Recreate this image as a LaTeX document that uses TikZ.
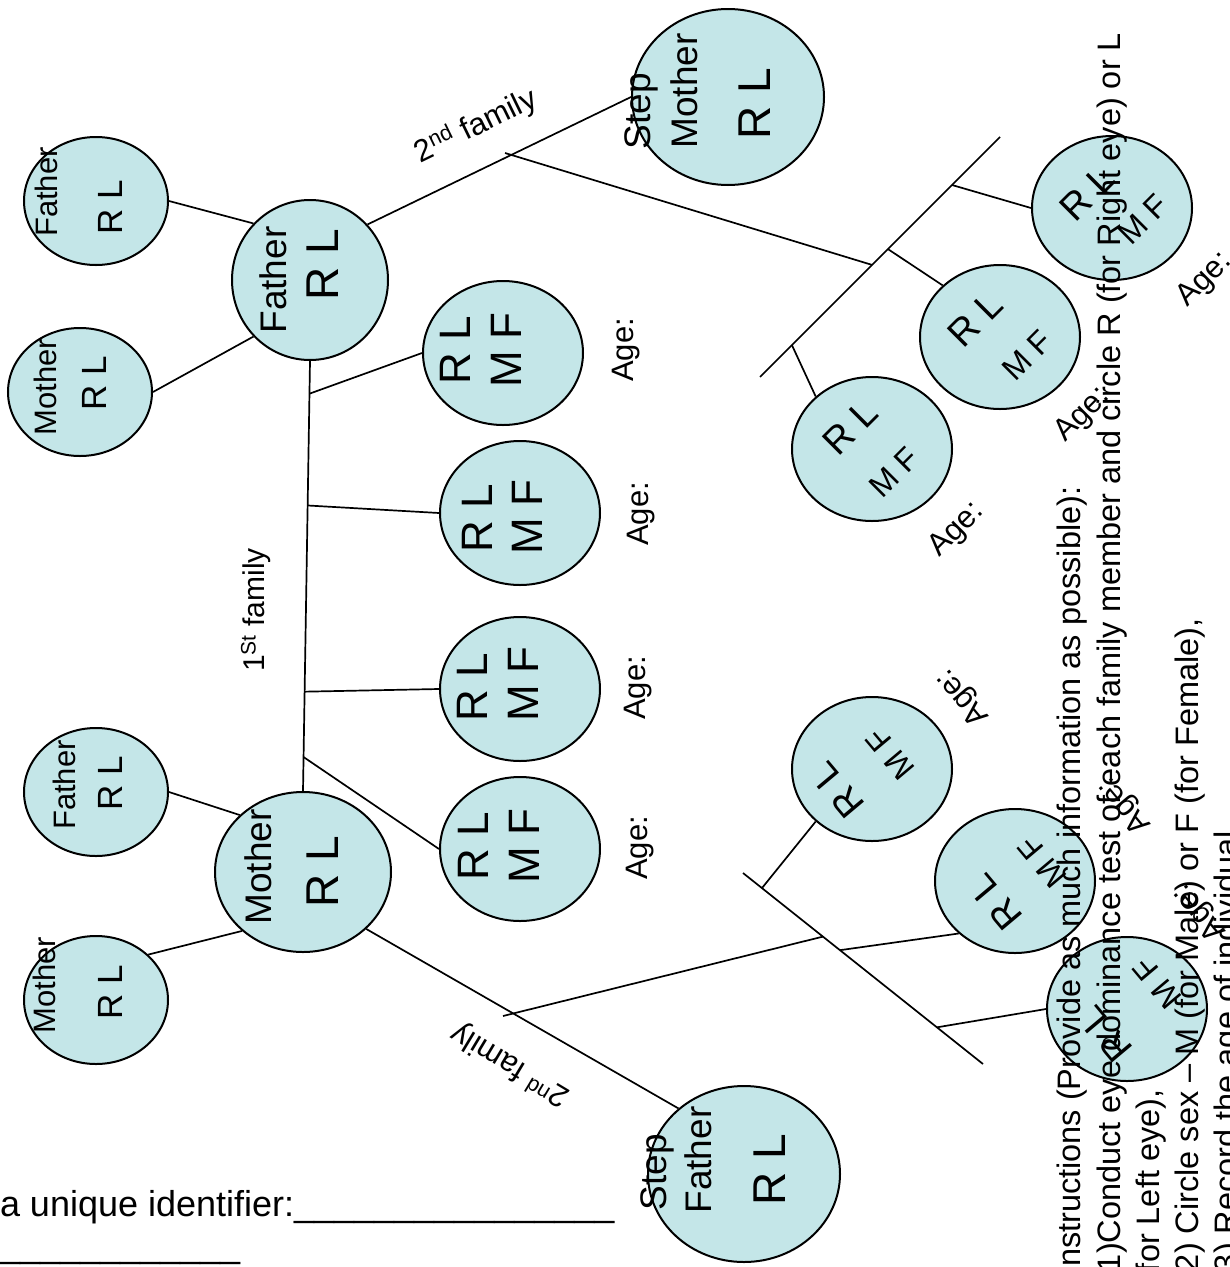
\documentclass[tikz,border=0pt]{standalone}
\usepackage{fontspec}
\setmainfont{Liberation Sans}
\usetikzlibrary{shapes.geometric,calc}
\definecolor{cfill}{RGB}{196,230,232}
\newcommand{\FS}[1]{\fontsize{#1}{#1}\selectfont}
\begin{document}
\begin{tikzpicture}[x=1pt,y=-1pt,
  personnode/.style={ellipse,draw=black,line width=2pt,fill=cfill,inner sep=0pt,minimum width=160pt,minimum height=144pt},
  smallperson/.style={personnode,minimum width=144pt,minimum height=128pt},
  link/.style={line width=1.7pt},
  tx/.style={inner sep=0pt,outer sep=0pt},
  nmS/.style={tx,rotate=90,font=\FS{31}},
  rlS/.style={tx,rotate=90,font=\FS{35}},
  nmB/.style={tx,rotate=90,font=\FS{37}},
  rlB/.style={tx,rotate=90,font=\FS{46}},
  kid/.style={tx,rotate=90,font=\FS{44}},
  agelab/.style={tx,font=\FS{31}},
  rlD/.style={tx,font=\FS{38}},
  mfD/.style={tx,font=\FS{32}},
  instr/.style={tx,rotate=90,anchor=base west,font=\FS{32.5}},
]
\useasboundingbox (0,0) rectangle (1230,1267);

% ---------- persons ----------
\node[smallperson] (fT) at (96,201) {};
\node[smallperson] (mT) at (80,392) {};
\node[personnode,minimum width=156pt,minimum height=160pt] (BF) at (310,280) {};
\node[smallperson] (fB) at (96,792) {};
\node[smallperson] (mB) at (96,1000) {};
\node[personnode,minimum width=176pt,minimum height=160pt] (BM) at (303,872) {};
\node[personnode,minimum width=192pt,minimum height=176pt] (SM) at (728,97) {};
\node[personnode,minimum width=192pt,minimum height=176pt] (SF) at (744,1174) {};
\node[personnode] (c1) at (503,353) {};
\node[personnode] (c2) at (520,513) {};
\node[personnode] (c3) at (520,689) {};
\node[personnode] (c4) at (520,849) {};
\node[personnode] (A) at (1112,208) {};
\node[personnode] (B) at (1000,337) {};
\node[personnode] (C) at (872,449) {};
\node[personnode] (F) at (872,769) {};
\node[personnode] (E) at (1015,881) {};
\node[personnode] (G) at (1127,1009) {};

% ---------- connectors: first family ----------
\draw[link] (fT.east) -- (BF.135);
\draw[link] (mT.east) -- (BF.225);
\draw[link] (BF.south) -- (BM.north);
\coordinate (k1) at ($(BF.south)!0.076!(BM.north)$);
\coordinate (k2) at ($(BF.south)!0.336!(BM.north)$);
\coordinate (k3) at ($(BF.south)!0.769!(BM.north)$);
\coordinate (k4) at ($(BF.south)!0.921!(BM.north)$);
\draw[link] (k1) -- (c1.west);
\draw[link] (k2) -- (c2.west);
\draw[link] (k3) -- (c3.west);
\draw[link] (k4) -- (c4.west);
\draw[link] (fB.east) -- (BM.138);
\draw[link] (mB.41) -- (BM.224);

% ---------- father's second family ----------
\draw[link] (BF.44) -- (SM.west);
\coordinate (s1) at (505,153);
\coordinate (d1a) at (760,377);
\coordinate (d1b) at (1000,137);
\draw[link] (d1a) -- (d1b);
\coordinate (j1) at ($(d1a)!0.467!(d1b)$);
\draw[link] (s1) -- (j1);
\coordinate (ja) at ($(d1a)!0.8!(d1b)$);
\coordinate (jb) at ($(d1a)!0.533!(d1b)$);
\coordinate (jc) at ($(d1a)!0.133!(d1b)$);
\draw[link] (ja) -- (A.west);
\draw[link] (jb) -- (B.138);
\draw[link] (jc) -- (C.137);

% ---------- mother's second family ----------
\draw[link] (BM.-42) -- (SF.135);
\coordinate (s2) at (503,1016);
\coordinate (d2a) at (743,873);
\coordinate (d2b) at (983,1064);
\draw[link] (d2a) -- (d2b);
\coordinate (j2) at ($(d2a)!0.333!(d2b)$);
\draw[link] (s2) -- (j2);
\coordinate (jf) at ($(d2a)!0.079!(d2b)$);
\coordinate (je) at ($(d2a)!0.404!(d2b)$);
\coordinate (jg) at ($(d2a)!0.808!(d2b)$);
\draw[link] (jf) -- (F.223);
\draw[link] (je) -- (E.223);
\draw[link] (jg) -- (G.west);

% ---------- texts in persons ----------
\node[nmS] (tfT) at (46,192) {Father};
\node[rlS] (rfT) at (110,207) {R L};
\node[nmS] (tmT) at (45,387) {Mother};
\node[rlS] (rmT) at (94,383) {R L};
\node[nmB] (tBF) at (273,280) {Father};
\node[rlB] (rBF) at (323,265) {R L};
\node[nmS] (tfB) at (64,785) {Father};
\node[rlS] (rfB) at (110,783) {R L};
\node[nmS] (tmB) at (44,985) {Mother};
\node[rlS] (rmB) at (110,992) {R L};
\node[nmB] (tBM) at (258,867) {Mother};
\node[rlB] (rBM) at (323,872) {R L};
\node[nmB] (sSM) at (641,111) {Step};
\node[nmB] (tSM) at (684,91) {Mother};
\node[rlB] (rSM) at (755,104) {R L};
\node[nmB] (sSF) at (657,1172) {Step};
\node[nmB] (tSF) at (698,1160) {Father};
\node[rlB] (rSF) at (770,1170) {R L};

\node[kid] (r1) at (455,350) {R L};
\node[kid] (m1) at (506,350) {M F};
\node[kid] (r2) at (477,518) {R L};
\node[kid] (m2) at (527,517) {M F};
\node[kid] (r3) at (472,687) {R L};
\node[kid] (m3) at (523,684) {M F};
\node[kid] (r4) at (473,846) {R L};
\node[kid] (m4) at (524,846) {M F};
\node[agelab,rotate=90] (a1) at (626,350) {Age:};
\node[agelab,rotate=90] (a2) at (641,514) {Age:};
\node[agelab,rotate=90] (a3) at (638,688) {Age:};
\node[agelab,rotate=90] (a4) at (640,848) {Age:};

\node[rlD,rotate=45] (rA) at (1087,193) {R L};
\node[mfD,rotate=45] (mA) at (1143,219) {M F};
\node[rlD,rotate=45] (rB) at (975,319) {R L};
\node[mfD,rotate=45] (mB2) at (1027,355) {M F};
\node[rlD,rotate=45] (rC) at (850,427) {R L};
\node[mfD,rotate=45] (mC) at (894,472) {M F};
\node[agelab,rotate=45] (aA) at (1205,280) {Age:};
\node[agelab,rotate=45] (aB) at (1083,415) {Age:};
\node[agelab,rotate=45] (aC) at (957,530) {Age:};

\node[rlD,rotate=130] (rF) at (837,790) {R L};
\node[mfD,rotate=130] (mF) at (890,754) {M F};
\node[rlD,rotate=130] (rE) at (995,902) {R L};
\node[mfD,rotate=130] (mE) at (1042,862) {M F};
\node[rlD,rotate=130] (rG) at (1105,1034) {R L};
\node[mfD,rotate=130] (mG) at (1157,983) {M F};
\node[agelab,rotate=130] (aF) at (963,697) {Age:};
\node[agelab,rotate=130] (aE) at (1125,805) {Age:};
\node[agelab,rotate=130] (aG) at (1200,912) {Age:};

% ---------- family labels ----------
\node[tx,rotate=26,font=\FS{31}] (lf2a) at (476,126) {2\textsuperscript{nd} family};
\node[tx,rotate=149,font=\FS{31}] (lf2b) at (510,1065) {2\textsuperscript{nd} family};
\node[tx,rotate=90,font=\FS{30}] (lf1) at (256,610) {1\textsuperscript{St} family};

% ---------- instructions ----------
\node[instr] (i1) at (1080,1276) {Instructions (Provide as much information as possible):};
\node[instr] (i2) at (1120,1272) {1)Conduct eye dominance test of each family member and circle R (for Right eye) or L};
\node[instr] (i3) at (1159,1272) {for Left eye),};
\node[instr] (i4) at (1198,1272) {2) Circle sex \textendash{} M (for Male) or F (for Female),};
\node[instr] (i5) at (1237,1272) {3) Record the age of individual};

% ---------- identifier ----------
\node[tx,anchor=base west,font=\FS{36}] (uid) at (0,1216) {a unique identifier:\_\_\_\_\_\_\_\_\_\_\_\_\_\_\_\_};
\node[tx,anchor=base west,font=\FS{36}] (uid2) at (0,1257) {\_\_\_\_\_\_\_\_\_\_\_\_};
\end{tikzpicture}
\end{document}
